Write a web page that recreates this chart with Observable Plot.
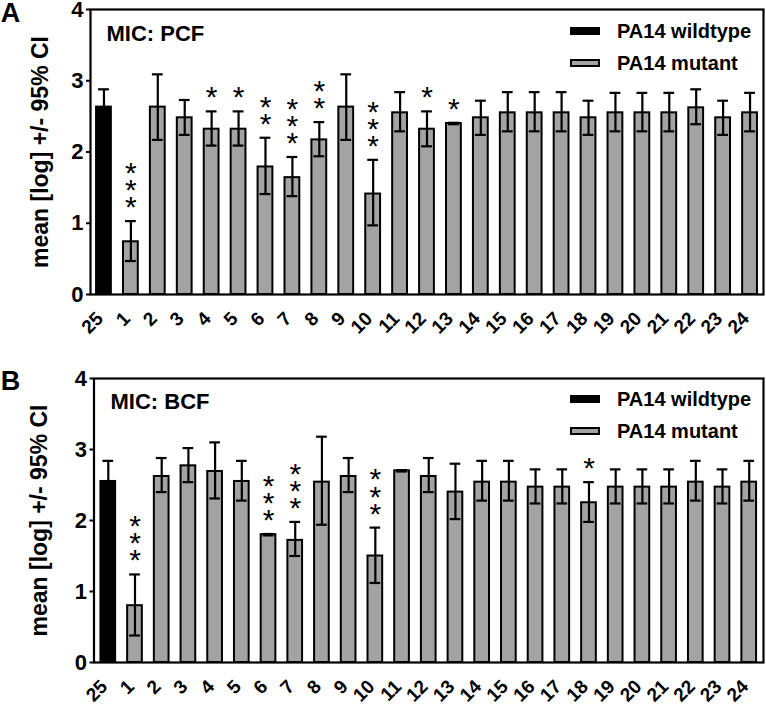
<!DOCTYPE html>
<html><head><meta charset="utf-8">
<script src="https://cdn.jsdelivr.net/npm/d3@7"></script>
<script src="https://cdn.jsdelivr.net/npm/@observablehq/plot@0.6"></script>
<style>
body{margin:0;background:#fff;font-family:"Liberation Sans",Arial,sans-serif;}
#root{position:relative;width:766px;height:705px;overflow:hidden;}
.panel{position:absolute;left:0;width:766px;}
.leg{position:absolute;left:570px;display:flex;align-items:center;font-weight:bold;font-size:20px;color:#000;white-space:nowrap;}
.sw{width:30px;height:8px;box-sizing:border-box;margin-right:17px;}
</style></head><body><div id="root"></div>
<script>
// Categories (strain numbers; 25 = wildtype)
const strains = ["25","1","2","3","4","5","6","7","8","9","10","11","12","13","14","15","16","17","18","19","20","21","22","23","24"];
const groupNames = ["PA14 wildtype","PA14 mutant"];
const groupColors = ["#000000","#a3a3a3"];

// Panel A: MIC PCF
const pcfMean = [2.63,0.74,2.63,2.48,2.32,2.32,1.79,1.64,2.17,2.63,1.41,2.55,2.32,2.40,2.48,2.55,2.55,2.55,2.48,2.55,2.55,2.55,2.62,2.48,2.55];
const pcfHigh = [2.88,1.03,3.09,2.73,2.57,2.57,2.20,1.93,2.42,3.09,1.89,2.84,2.57,2.41,2.72,2.84,2.84,2.84,2.72,2.83,2.83,2.83,2.88,2.72,2.83];
const pcfLow  = [2.38,0.47,2.17,2.24,2.09,2.09,1.41,1.38,1.94,2.17,0.97,2.29,2.08,2.39,2.24,2.29,2.29,2.29,2.24,2.29,2.29,2.29,2.39,2.24,2.29];
const pcfStars = ["","***","","","*","*","**","***","**","","***","","*","*","","","","","","","","","","",""];

// Panel B: MIC BCF
const bcfMean = [2.55,0.80,2.62,2.77,2.69,2.55,1.80,1.72,2.54,2.62,1.50,2.70,2.62,2.40,2.54,2.54,2.47,2.47,2.25,2.47,2.47,2.47,2.54,2.47,2.54];
const bcfHigh = [2.84,1.24,2.88,3.02,3.10,2.84,1.81,1.98,3.18,2.88,1.90,2.71,2.88,2.80,2.84,2.84,2.72,2.72,2.54,2.72,2.72,2.72,2.84,2.72,2.84];
const bcfLow  = [2.26,0.38,2.40,2.54,2.31,2.28,1.79,1.50,1.94,2.40,1.12,2.69,2.40,2.02,2.28,2.28,2.24,2.24,1.98,2.24,2.24,2.24,2.28,2.24,2.28];
const bcfStars = ["","***","","","","","***","***","","","***","","","","","","","","*","","","","","",""];

const yTicks = [0,1,2,3,4];
const yLabel = "mean [log] +/- 95% CI";

function panel({letter, title, mean, high, low, stars, top, height, mt, mb, ml, po, letterDx, letterDy, titleDx, titleDy, labelDx, legTop}) {
  const data = strains.map((s, i) => ({
    strain: s, group: i === 0 ? groupNames[0] : groupNames[1],
    mean: mean[i], hi: high[i], lo: low[i],
    stars: stars[i] ? stars[i].split("").join("\n") : ""
  }));
  const chart = Plot.plot({
    width: 766, height, marginTop: mt, marginBottom: mb, marginLeft: ml, marginRight: 3,
    style: {fontFamily: "'Liberation Sans', Arial, sans-serif", color: "black", background: "white", overflow: "visible"},
    x: {domain: strains, paddingInner: 0.45, paddingOuter: po, round: false, label: null},
    y: {domain: [0, 4], label: null},
    color: {domain: groupNames, range: groupColors},
    marks: [
      Plot.barY(data, {x: "strain", y: "mean", fill: "group", stroke: "black", strokeWidth: 2}),
      Plot.ruleX(data, {x: "strain", y1: "lo", y2: "hi", stroke: "black", strokeWidth: 2.2}),
      Plot.tickY(data, {x: "strain", y: "hi", stroke: "black", strokeWidth: 2.2, insetLeft: 2, insetRight: 2}),
      Plot.tickY(data, {x: "strain", y: "lo", stroke: "black", strokeWidth: 2.2, insetLeft: 2, insetRight: 2}),
      Plot.text(data.filter(d => d.stars), {x: "strain", y: "hi", text: "stars", lineAnchor: "bottom", lineHeight: 0.57, fontSize: 30, dy: -4, fill: "black"}),
      Plot.axisY({ticks: yTicks, tickFormat: d => String(d), tickSize: 4, tickPadding: 3, fontSize: 22, fontWeight: "bold", strokeWidth: 2, label: null}),
      Plot.axisX({tickRotate: -45, tickSize: 0, tickPadding: 9, dx: -4, dy: 12, fontSize: 19, fontWeight: "bold", label: null}),
      Plot.frame({stroke: "black", strokeWidth: 2.2}),
      Plot.text([title], {frameAnchor: "top-left", textAnchor: "start", lineAnchor: "middle", dx: titleDx, dy: titleDy, fontSize: 22, fontWeight: "bold", fill: "black"}),
      Plot.text([yLabel], {frameAnchor: "left", textAnchor: "middle", lineAnchor: "middle", rotate: -90, dx: labelDx, fontSize: 23, fontWeight: "bold", fill: "black"}),
      Plot.text([letter], {frameAnchor: "top-left", textAnchor: "middle", lineAnchor: "middle", dx: letterDx, dy: letterDy, fontSize: 27, fontWeight: "bold", fill: "black"})
    ]
  });
  const div = document.createElement("div");
  div.className = "panel";
  div.style.top = top + "px";
  div.style.height = height + "px";
  div.appendChild(chart);
  groupNames.forEach((g, i) => {
    const item = document.createElement("div");
    item.className = "leg";
    item.style.top = (legTop + i * 32 - 8) + "px";
    item.style.height = "24px";
    const sw = document.createElement("div");
    sw.className = "sw";
    sw.style.background = groupColors[i];
    sw.style.border = "2px solid #000";
    const t = document.createElement("span");
    t.textContent = g;
    item.appendChild(sw); item.appendChild(t);
    div.appendChild(item);
  });
  document.getElementById("root").appendChild(div);
}

panel({letter: "A", title: "MIC: PCF", mean: pcfMean, high: pcfHigh, low: pcfLow, stars: pcfStars,
  top: 0, height: 340, mt: 9, mb: 46, ml: 90, po: 0.225, letterDx: -80, letterDy: 3.5, titleDx: 16, titleDy: 24, labelDx: -50, legTop: 27});
panel({letter: "B", title: "MIC: BCF", mean: bcfMean, high: bcfHigh, low: bcfLow, stars: bcfStars,
  top: 340, height: 365, mt: 38, mb: 43, ml: 93.5, po: 0.26, letterDx: -83.5, letterDy: 3, titleDx: 16.5, titleDy: 23.5, labelDx: -54, legTop: 55});
</script>
</body></html>
